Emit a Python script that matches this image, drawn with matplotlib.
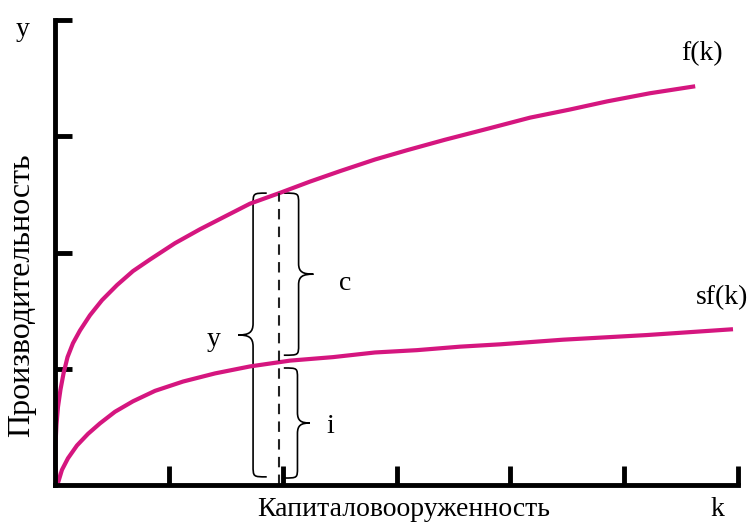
import matplotlib
matplotlib.use('Agg')
import matplotlib.pyplot as plt
import numpy as np
from matplotlib.path import Path
from matplotlib.patches import PathPatch

plt.rcParams.update({
    'font.family': ['Liberation Serif', 'DejaVu Serif'],
    'font.size': 20,
})

# Production function f(k) and saving curve sf(k)
k_f = [0.018, 0.004, 0.004, 0.013, 0.026, 0.048, 0.075, 0.110, 0.158, 0.220,
       0.307, 0.413, 0.545, 0.685, 0.835, 1.054, 1.274, 1.493, 1.713, 1.968,
       2.240, 2.504, 2.811, 3.093, 3.426, 3.822, 4.173, 4.524, 4.851, 5.227,
       5.624]
y_f = [0.017, 0.17, 0.34, 0.52, 0.67, 0.82, 0.96, 1.10, 1.22, 1.33,
       1.46, 1.59, 1.72, 1.84, 1.94, 2.08, 2.20, 2.31, 2.42, 2.51,
       2.61, 2.70, 2.80, 2.88, 2.97, 3.07, 3.16, 3.23, 3.30, 3.37,
       3.43]
k_sf = [0.026, 0.061, 0.114, 0.193, 0.290, 0.395, 0.527, 0.685, 0.879, 1.125,
        1.406, 1.713, 2.065, 2.442, 2.811, 3.180, 3.558, 3.909, 4.463, 5.201,
        5.956]
y_sf = [0.017, 0.13, 0.23, 0.34, 0.44, 0.53, 0.63, 0.72, 0.81, 0.89,
        0.96, 1.02, 1.07, 1.10, 1.14, 1.16, 1.19, 1.21, 1.25, 1.29,
        1.34]

k_mark = 1.97
x_ticks = [1, 2, 3, 4, 5, 6]
y_ticks = [1, 2, 3, 4]

pink = '#d5167f'


def brace(ax, x_end, x_spine, x_tip, y0, y1, r=0.09):
    yc = (y0 + y1) / 2
    verts = [
        (x_end, y1), (x_spine, y1), (x_spine, y1), (x_spine, y1 - r),
        (x_spine, yc + r),
        (x_spine, yc + r * 0.2), (x_spine + (x_tip - x_spine) * 0.3, yc), (x_tip, yc),
        (x_spine + (x_tip - x_spine) * 0.3, yc), (x_spine, yc - r * 0.2), (x_spine, yc - r),
        (x_spine, y0 + r),
        (x_spine, y0), (x_spine, y0), (x_end, y0),
    ]
    codes = [Path.MOVETO, Path.CURVE4, Path.CURVE4, Path.CURVE4,
             Path.LINETO,
             Path.CURVE4, Path.CURVE4, Path.CURVE4,
             Path.CURVE4, Path.CURVE4, Path.CURVE4,
             Path.LINETO,
             Path.CURVE4, Path.CURVE4, Path.CURVE4]
    ax.add_patch(PathPatch(Path(verts, codes), facecolor='none',
                           edgecolor='black', lw=1.2, clip_on=False))


fig = plt.figure(figsize=(7.5, 5.29), dpi=100)
ax = fig.add_axes([55 / 750, 44 / 529, 683 / 750, 465 / 529])

ax.plot(k_f, y_f, color=pink, lw=3, clip_on=False, solid_capstyle='butt',
        solid_joinstyle='round')
ax.plot(k_sf, y_sf, color=pink, lw=3, clip_on=False, solid_capstyle='butt',
        solid_joinstyle='round')

f_mark = np.interp(k_mark, k_f[4:], y_f[4:])
sf_mark = np.interp(k_mark, k_sf, y_sf)
ax.plot([k_mark, k_mark], [0, f_mark], color='#222222', lw=1.5,
        dashes=(5, 3.5))

brace(ax, k_mark - 0.11, k_mark - 0.23, k_mark - 0.36, 0.07, f_mark, r=0.1)
brace(ax, k_mark + 0.04, k_mark + 0.17, k_mark + 0.30, sf_mark + 0.06, f_mark, r=0.09)
brace(ax, k_mark + 0.04, k_mark + 0.16, k_mark + 0.27, 0.06, sf_mark - 0.05, r=0.09)

ax.text(k_mark - 0.58, 1.25, 'y', ha='center', va='center')
ax.text(k_mark + 0.58, 1.73, 'c', ha='center', va='center')
ax.text(k_mark + 0.45, 0.50, 'i', ha='center', va='center')
ax.text(5.68, 3.71, 'f(k)', ha='center', va='center')
ax.text(5.86, 1.61, 'sf(k)', ha='center', va='center')

ax.set_xlim(0, 6)
ax.set_ylim(0, 4)
ax.set_xticks(x_ticks)
ax.set_yticks(y_ticks)
ax.tick_params(direction='in', width=3.5, labelbottom=False, labelleft=False)
ax.tick_params(axis='x', length=14)
ax.tick_params(axis='y', length=12.5)
for side in ['top', 'right']:
    ax.spines[side].set_visible(False)
for side in ['left', 'bottom']:
    ax.spines[side].set_linewidth(3.5)
    ax.spines[side].set_capstyle('projecting')

fig.text(23 / 750, 1 - 30 / 529, 'y', ha='center', va='center')
fig.text(404 / 750, 1 - 510 / 529, 'Капиталовооруженность', ha='center', va='center')
fig.text(717 / 750, 1 - 510 / 529, 'k', ha='center', va='center')
fig.text(22 / 750, 1 - 295 / 529, 'Производительность', ha='center', va='center',
         rotation=90, fontsize=23)

fig.savefig('out.png', dpi=100)
